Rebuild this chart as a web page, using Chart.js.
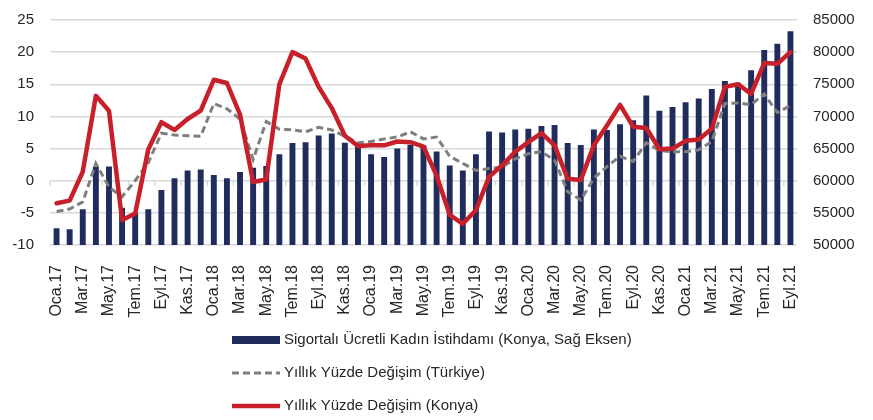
<!DOCTYPE html>
<html>
<head>
<meta charset="utf-8">
<script src="https://cdn.jsdelivr.net/npm/chart.js@4.4.1/dist/chart.umd.min.js"></script>
<style>
  body { margin: 0; background: #fff; }
  #wrap { width: 873px; height: 420px; }
</style>
</head>
<body>
<div id="wrap"><canvas id="istihdam_Chart"></canvas></div>
<script>
var aylar = [
  'Oca.17', 'Şub.17', 'Mar.17', 'Nis.17', 'May.17', 'Haz.17', 'Tem.17', 'Ağu.17', 'Eyl.17', 'Eki.17', 'Kas.17', 'Ara.17',
  'Oca.18', 'Şub.18', 'Mar.18', 'Nis.18', 'May.18', 'Haz.18', 'Tem.18', 'Ağu.18', 'Eyl.18', 'Eki.18', 'Kas.18', 'Ara.18',
  'Oca.19', 'Şub.19', 'Mar.19', 'Nis.19', 'May.19', 'Haz.19', 'Tem.19', 'Ağu.19', 'Eyl.19', 'Eki.19', 'Kas.19', 'Ara.19',
  'Oca.20', 'Şub.20', 'Mar.20', 'Nis.20', 'May.20', 'Haz.20', 'Tem.20', 'Ağu.20', 'Eyl.20', 'Eki.20', 'Kas.20', 'Ara.20',
  'Oca.21', 'Şub.21', 'Mar.21', 'Nis.21', 'May.21', 'Haz.21', 'Tem.21', 'Ağu.21', 'Eyl.21'
];

// Konya sigortalı ücretli kadın istihdamı (kişi, sağ eksen)
var kadinIstihdami = [
  52600, 52450, 55550, 62200, 62200, 55800, 55000, 55550, 58550, 60400, 61600, 61750,
  60900, 60400, 61350, 62000, 62300, 64100, 65850, 66000, 67050, 67350, 65900, 65500,
  64100, 63700, 65000, 65600, 65500, 64550, 62350, 61600, 64100, 67650, 67500, 67950,
  68100, 68500, 68650, 65850, 65550, 67950, 67900, 68800, 69400, 73250, 70900, 71450,
  72200, 72800, 74250, 75500, 75250, 77200, 80350, 81300, 83250
];

// yıllık % değişim, Türkiye
var degisimTurkiye = [
  -4.8, -4.4, -3.3, 2.7, -1.0, -2.5, 0.0, 2.8, 7.4, 7.1, 7.0, 6.9,
  12.0, 11.2, 9.6, 3.3, 9.2, 8.0, 7.9, 7.6, 8.3, 7.9, 6.9, 5.9,
  6.1, 6.5, 6.8, 7.6, 6.5, 6.8, 3.8, 2.7, 1.6, 1.9, 2.1, 3.4,
  4.2, 4.5, 3.2, -1.7, -3.0, 0.4, 2.2, 3.8, 3.0, 5.9, 4.7, 4.5,
  4.5, 4.8, 6.1, 12.0, 12.1, 11.8, 13.5, 10.6, 11.7
];

// yıllık % değişim, Konya
var degisimKonya = [
  -3.5, -3.1, 1.4, 13.2, 10.9, -6.1, -5.1, 4.9, 9.1, 7.9, 9.6, 10.9,
  15.7, 15.2, 10.3, -0.2, 0.2, 15.0, 20.0, 19.0, 14.6, 11.3, 7.0, 5.4,
  5.5, 5.5, 6.1, 6.0, 5.3, 0.8, -5.3, -6.7, -4.6, 0.6, 2.4, 4.5,
  6.0, 7.4, 5.5, 0.3, 0.1, 5.5, 8.6, 11.8, 8.4, 8.2, 4.9, 5.0,
  6.2, 6.4, 8.1, 14.6, 15.0, 13.5, 18.3, 18.2, 20.0
];

var yaziRengi = '#262626';
Chart.defaults.font.family = "'Liberation Sans', Arial, sans-serif";
Chart.defaults.color = yaziRengi;

// sıfır çizgisinin altındaki küçük çentikler (her iki ayda bir)
var sifirCentik = {
  id: 'sifirCentik',
  beforeDatasetsDraw: function(chart) {
    var ctx = chart.ctx;
    var x = chart.scales.x;
    var y0 = chart.scales.y.getPixelForValue(0);
    var yarim = (x.getPixelForValue(1) - x.getPixelForValue(0)) / 2;
    ctx.save();
    ctx.strokeStyle = '#d9d9d9';
    ctx.lineWidth = 1.5;
    for (var i = 0; i <= aylar.length; i += 2) {
      var px = x.getPixelForValue(i) - yarim;
      ctx.beginPath();
      ctx.moveTo(px, y0);
      ctx.lineTo(px, y0 + 5);
      ctx.stroke();
    }
    ctx.restore();
  }
};

// alt kısımda alt alta lejant
var altLejant = {
  id: 'altLejant',
  afterDraw: function(chart) {
    var ctx = chart.ctx;
    var x = 232, y = 340, satir = 33;
    ctx.save();
    ctx.font = "15px 'Liberation Sans', sans-serif";
    ctx.textBaseline = 'middle';
    chart.data.datasets.forEach(function(ds, i) {
      var yy = y + i * satir;
      if (ds.type === 'bar') {
        ctx.fillStyle = ds.backgroundColor;
        ctx.fillRect(x, yy - 4, 48, 8);
      } else {
        ctx.strokeStyle = ds.borderColor;
        ctx.lineWidth = ds.borderWidth;
        ctx.setLineDash(ds.borderDash || []);
        ctx.beginPath();
        ctx.moveTo(x, yy);
        ctx.lineTo(x + 48, yy);
        ctx.stroke();
        ctx.setLineDash([]);
      }
      ctx.fillStyle = yaziRengi;
      ctx.fillText(ds.label, x + 52, yy);
    });
    ctx.restore();
  }
};

// dikey eksenlerin genişliği sabit, üst/alt taşma payı yok
function dikeyEksen(genislik) {
  return function(scale) {
    scale.width = genislik;
    scale.paddingTop = 0;
    scale.paddingBottom = 0;
  };
}

var istihdam_Chart = new Chart('istihdam_Chart', {
  type: 'bar',
  data: {
    labels: aylar,
    datasets: [
      {
        type: 'bar',
        label: 'Sigortalı Ücretli Kadın İstihdamı (Konya, Sağ Eksen)',
        data: kadinIstihdami,
        yAxisID: 'y1',
        backgroundColor: '#1f2c5c',
        barPercentage: 0.45,
        categoryPercentage: 1,
        order: 3
      },
      {
        type: 'line',
        label: 'Yıllık Yüzde Değişim (Türkiye)',
        data: degisimTurkiye,
        yAxisID: 'y',
        borderColor: '#7f7f7f',
        borderWidth: 3,
        borderDash: [7, 4],
        pointRadius: 0,
        tension: 0,
        order: 2
      },
      {
        type: 'line',
        label: 'Yıllık Yüzde Değişim (Konya)',
        data: degisimKonya,
        yAxisID: 'y',
        borderColor: '#c8202a',
        borderWidth: 4.5,
        borderJoinStyle: 'round',
        borderCapStyle: 'round',
        pointRadius: 0,
        tension: 0,
        order: 1
      }
    ]
  },
  options: {
    responsive: true,
    maintainAspectRatio: false,
    animation: false,
    layout: { padding: { left: 0, right: 0, top: 20, bottom: 0 } },
    plugins: {
      legend: { display: false },
      tooltip: { enabled: false }
    },
    scales: {
      x: {
        offset: true,
        grid: { display: false },
        border: { display: false },
        ticks: {
          autoSkip: false,
          minRotation: 90,
          maxRotation: 90,
          padding: 12,
          font: { size: 16 },
          callback: function(value, index) {
            return index % 2 === 0 ? aylar[index] : '';
          }
        },
        // eksen yüksekliği sabit, altta lejanta yer kalsın
        afterFit: function(scale) {
          scale.height = 175;
          scale.paddingLeft = 0;
          scale.paddingRight = 0;
        }
      },
      y: {
        position: 'left',
        min: -10,
        max: 25,
        ticks: { stepSize: 5, padding: 16, font: { size: 15 } },
        grid: { color: '#d9d9d9', lineWidth: 1.5, drawTicks: false },
        border: { display: false },
        afterFit: dikeyEksen(50)
      },
      y1: {
        position: 'right',
        min: 50000,
        max: 85000,
        ticks: {
          stepSize: 5000,
          padding: 16,
          font: { size: 15 },
          callback: function(value) { return String(value); }
        },
        grid: { drawOnChartArea: false, drawTicks: false },
        border: { display: false },
        afterFit: dikeyEksen(76)
      }
    }
  },
  plugins: [sifirCentik, altLejant]
});
</script>
</body>
</html>
